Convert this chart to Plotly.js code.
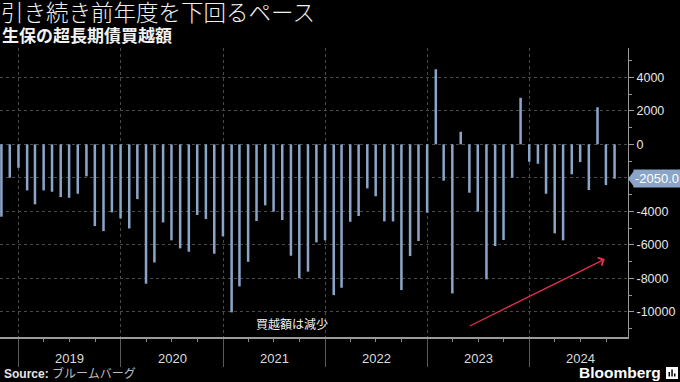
<!DOCTYPE html>
<html><head><meta charset="utf-8">
<script src="https://cdn.plot.ly/plotly-3.0.1.min.js"></script>
<style>html,body{margin:0;padding:0;background:#000;}#chart{width:680px;height:382px;}</style>
</head><body><div id="chart"></div>
<script>
const months = [
  '2018-10','2018-11','2018-12',
  '2019-01','2019-02','2019-03','2019-04','2019-05','2019-06','2019-07','2019-08','2019-09','2019-10','2019-11','2019-12',
  '2020-01','2020-02','2020-03','2020-04','2020-05','2020-06','2020-07','2020-08','2020-09','2020-10','2020-11','2020-12',
  '2021-01','2021-02','2021-03','2021-04','2021-05','2021-06','2021-07','2021-08','2021-09','2021-10','2021-11','2021-12',
  '2022-01','2022-02','2022-03','2022-04','2022-05','2022-06','2022-07','2022-08','2022-09','2022-10','2022-11','2022-12',
  '2023-01','2023-02','2023-03','2023-04','2023-05','2023-06','2023-07','2023-08','2023-09','2023-10','2023-11','2023-12',
  '2024-01','2024-02','2024-03','2024-04','2024-05','2024-06','2024-07','2024-08','2024-09','2024-10'
];
const netPurchases = [
  -4320,-1990,-1400,
  -2750,-3580,-2750,-2830,-3150,-3190,-2950,-1910,-4880,-5180,-4060,-4420,
  -5020,-3270,-8320,-7050,-4660,-5730,-6210,-6410,-4220,-4460,-6530,-5490,
  -10030,-8480,-7010,-4580,-3640,-4020,-4520,-6650,-8000,-7600,-5850,-5730,
  -9000,-8560,-4620,-4280,-2630,-3100,-4600,-4600,-8700,-6670,-5770,-4080,
  4480,-2170,-8900,750,-2890,-4020,-8060,-6070,-5710,-1990,2780,-1040,
  -1160,-2950,-5310,-5730,-1790,-1060,-2730,2210,-2430,-2050
];
const yTickValues = [4000,2000,0,-2000,-4000,-6000,-8000,-10000];
const yTickLabels = ['4000','2000','0','-2000','-4000','-6000','-8000','-10000'];
const yearLabels = ['2019','2020','2021','2022','2023','2024'];
const titleText = '引き続き前年度を下回るペース';
const subtitleText = '生保の超長期債買越額';
const noteText = '買越額は減少';
const sourceText = '<b>Source:</b> <span style="color:#bdbdbd">ブルームバーグ</span>';

// month-end dates for bar positions
function monthEnd(m){
  const [y,mo] = m.split('-').map(Number);
  const d = new Date(Date.UTC(y, mo, 0));
  return d.toISOString().slice(0,10);
}
const xDates = months.map(monthEnd);

const yMin = -11500, yMax = 5750;
const barColor = '#8ba5c8';
const cjk = 'Noto Sans CJK JP';
const latin = 'Liberation Sans, Arial, sans-serif';

const lastVal = netPurchases[netPurchases.length-1];
const lastPaperY = (lastVal - yMin)/(yMax - yMin);
const plotH = 382-48-45, plotW = 628;
const px = v => v/plotW;
const py = v => (337 - v)/plotH;

const trace = {
  type:'bar', x:xDates, y:netPurchases,
  marker:{color:barColor, line:{width:0}},
  width: 9*86400000,
  hoverinfo:'skip'
};

const annotations = yearLabels.map(yr => ({
  xref:'x', yref:'paper', x: yr+'-07-02', y: py(358),
  text: yr, showarrow:false, xanchor:'center', yanchor:'middle',
  font:{family:latin, size:13, color:'#dcdcdc'}
}));
annotations.push({
  xref:'paper', yref:'paper', x:0, y:py(35), xanchor:'left', yanchor:'middle',
  text: subtitleText, showarrow:false, xshift:0,
  font:{family:cjk, size:17, color:'#f2f2f2', weight:'bold'},
});
annotations.push({
  xref:'x', yref:'y', x:'2021-09-04', y:-10670, text: noteText, showarrow:false,
  xanchor:'center', yanchor:'middle', font:{family:cjk, size:12, color:'#f0f0f0'}
});
annotations.push({
  xref:'x', yref:'y', x:'2024-09-26', y:-6850, axref:'x', ayref:'y', ax:'2023-05-27', ay:-10890,
  text:'', showarrow:true, arrowcolor:'#e62e4d', arrowwidth:1.3, arrowhead:4, arrowsize:1.3
});
annotations.push({
  xref:'paper', yref:'paper', x:1, xshift:5, y:lastPaperY, xanchor:'left', yanchor:'middle',
  text: lastVal.toFixed(1), showarrow:false, bgcolor:barColor, borderpad:1,
  font:{family:latin, size:13, color:'#ffffff'}
});
annotations.push({
  xref:'paper', yref:'paper', x:0, xshift:2, y:py(373.5), xanchor:'left', yanchor:'middle',
  text: sourceText, showarrow:false, font:{family:latin+', '+cjk, size:12, color:'#e6e6e6'}
});
annotations.push({
  xref:'paper', yref:'paper', x:px(663), y:py(372.5), xanchor:'right', yanchor:'middle',
  text:'<b>Bloomberg</b>', showarrow:false, font:{family:latin, size:15.5, color:'#ffffff'}
});

const shapes = [
  {type:'path', xref:'paper', yref:'paper',
   path:`M ${1} ${lastPaperY} L ${1+6/plotW} ${lastPaperY+8/plotH} L ${1+6/plotW} ${lastPaperY-8/plotH} Z`,
   fillcolor:barColor, line:{width:0}},
  {type:'rect', xref:'paper', yref:'paper', x0:px(666), x1:px(678), y0:py(379), y1:py(367),
   fillcolor:'#ffffff', line:{width:0}},
  {type:'rect', xref:'paper', yref:'paper', x0:px(668.5), x1:px(670), y0:py(376.5), y1:py(372),
   fillcolor:'#000', line:{width:0}},
  {type:'rect', xref:'paper', yref:'paper', x0:px(671.3), x1:px(672.8), y0:py(376.5), y1:py(369.5),
   fillcolor:'#000', line:{width:0}},
  {type:'rect', xref:'paper', yref:'paper', x0:px(674), x1:px(675.5), y0:py(376.5), y1:py(373.5),
   fillcolor:'#000', line:{width:0}}
];

const layout = {
  width:680, height:382,
  paper_bgcolor:'#000', plot_bgcolor:'#000',
  margin:{l:0, r:52, t:48, b:45},
  showlegend:false,
  title:{text:titleText, x:0, xref:'container', xanchor:'left', y:1-13/382, yref:'container', yanchor:'middle',
         pad:{t:0,l:1}, font:{family:cjk, size:22.5, color:'#f0f0f0', weight:300}},
  xaxis:{
    type:'date', range:['2018-10-26','2024-12-18'],
    tickmode:'linear', tick0:'2019-01-01', dtick:'M12',
    ticks:'outside', ticklen:28, tickcolor:'#5a5a5a', tickwidth:1,
    showticklabels:false,
    showgrid:true, gridcolor:'#4a4a4a', griddash:'dot', gridwidth:1,
    showline:true, linecolor:'#9a9a9a', linewidth:1.5,
    minor:{tick0:'2019-01-01', dtick:'M3', ticks:'outside', ticklen:3, tickcolor:'#8a8a8a', showgrid:false},
    zeroline:false, fixedrange:true
  },
  yaxis:{
    side:'right', range:[yMin, yMax],
    tickmode:'array', tickvals:yTickValues, ticktext:yTickLabels,
    ticks:'outside', ticklen:5, tickcolor:'#9a9a9a',
    tickfont:{family:latin, size:12.5, color:'#e6e6e6'},
    showgrid:true, gridcolor:'#4a4a4a', griddash:'dot',
    showline:true, linecolor:'#9a9a9a', linewidth:1,
    minor:{tickvals:[5000,3000,1000,-1000,-3000,-5000,-7000,-9000,-11000], ticks:'outside', ticklen:3, tickcolor:'#9a9a9a', showgrid:false},
    zeroline:false, fixedrange:true
  },
  annotations, shapes
};

Plotly.newPlot('chart', [trace], layout, {displayModeBar:false, staticPlot:true});
</script>
</body></html>
